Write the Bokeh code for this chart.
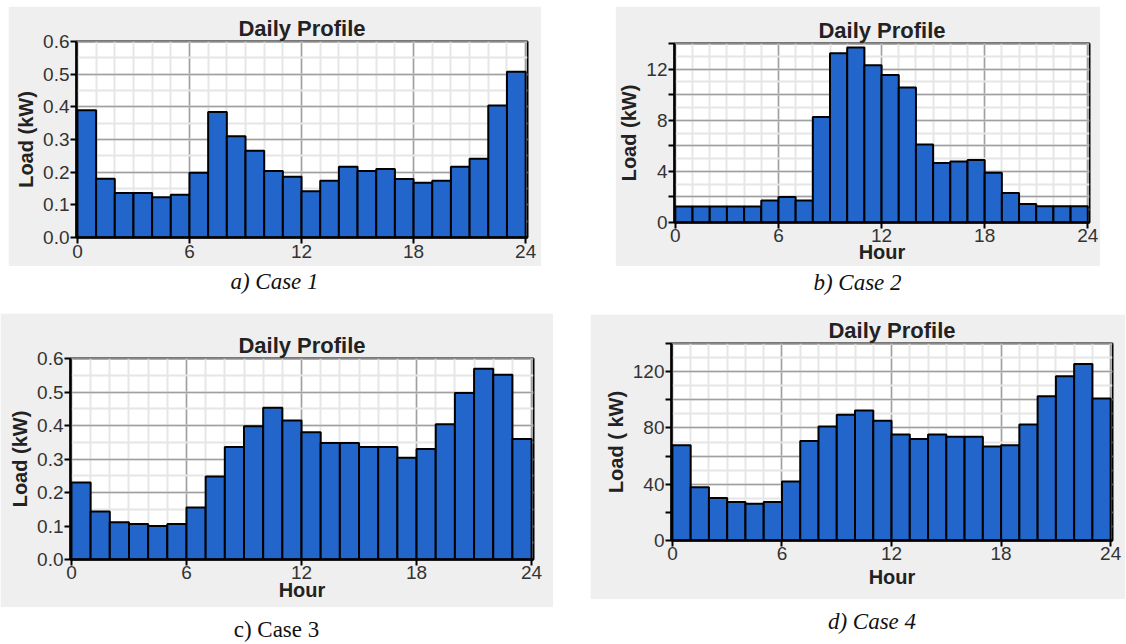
from bokeh.plotting import figure
from bokeh.models import Range1d, SingleIntervalTicker, NumeralTickFormatter, Div, Spacer
from bokeh.layouts import row, column
from bokeh.embed import file_html
from bokeh.resources import INLINE

# hour of day (bar starts at h, ends at h+1)
hours = list(range(24))

case1 = [0.39, 0.18, 0.136, 0.136, 0.123, 0.131, 0.198, 0.384, 0.31, 0.266, 0.204, 0.186,
         0.142, 0.174, 0.217, 0.204, 0.21, 0.179, 0.168, 0.174, 0.217, 0.241, 0.404, 0.508]
case2 = [1.25, 1.25, 1.25, 1.25, 1.25, 1.73, 1.99, 1.72, 8.25, 13.25, 13.7, 12.3,
         11.55, 10.57, 6.1, 4.65, 4.78, 4.9, 3.9, 2.3, 1.45, 1.28, 1.28, 1.28]
case3 = [0.23, 0.143, 0.111, 0.106, 0.1, 0.106, 0.155, 0.248, 0.336, 0.398, 0.453, 0.415,
         0.38, 0.348, 0.348, 0.336, 0.336, 0.304, 0.33, 0.404, 0.497, 0.57, 0.552, 0.36]
case4 = [67.8, 37.8, 30.2, 27.4, 26.2, 27.4, 42.0, 70.8, 81.0, 89.4, 92.4, 85.2,
         75.3, 72.2, 75.3, 73.8, 73.8, 66.8, 67.8, 82.4, 102.5, 116.8, 125.5, 101.0]

captions = ["a) Case 1", "b) Case 2", "c) Case 3", "d) Case 4"]

GREY = "#efefef"
BAR = "#2266cc"
FONT = "Liberation Sans"


def make_panel(vals, ymax, ystep, nminor, ylabel, xlabel, fmt, hide, w, h, bl, br, bt, bb, xstand=3):
    p = figure(width=w, height=h, output_backend="svg", toolbar_location=None,
               x_range=Range1d(-0.05, 24.1), y_range=Range1d(0, ymax * 1.0005),
               min_border_left=bl, min_border_right=br, min_border_top=bt, min_border_bottom=bb,
               title="Daily Profile")
    p.border_fill_color = GREY
    p.background_fill_color = "white"
    p.outline_line_color = "black"
    p.outline_line_width = 2

    p.title.align = "center"
    p.title.text_font = FONT
    p.title.text_font_size = "22px"
    p.title.text_font_style = "bold"
    p.title.text_color = "#222222"
    p.title.standoff = 1

    p.xaxis.ticker = SingleIntervalTicker(interval=6, num_minor_ticks=6)
    p.yaxis.ticker = SingleIntervalTicker(interval=ystep, num_minor_ticks=nminor)
    if fmt:
        p.yaxis.formatter = NumeralTickFormatter(format=fmt)
    if hide:
        p.yaxis.major_label_overrides = {v: "" for v in hide}

    for ax in [p.xaxis[0], p.yaxis[0]]:
        ax.axis_line_color = "black"
        ax.axis_line_width = 2.5
        ax.major_tick_line_color = "black"
        ax.major_tick_line_width = 2
        ax.major_tick_out = 6
        ax.major_tick_in = 0
        ax.minor_tick_line_color = None
        ax.major_label_text_font = FONT
        ax.major_label_text_font_size = "19px"
        ax.major_label_text_color = "#333333"
        ax.major_label_standoff = 1
        ax.axis_label_text_font = FONT
        ax.axis_label_text_font_size = "20px"
        ax.axis_label_text_font_style = "bold"
        ax.axis_label_text_color = "#222222"
        ax.axis_label_standoff = 3
    p.yaxis.axis_label = ylabel
    if xlabel:
        p.xaxis.axis_label = xlabel
        p.xaxis.axis_label_standoff = xstand
        p.xaxis.major_label_standoff = 0

    p.grid.grid_line_color = "#a0a0a0"
    p.grid.grid_line_width = 1.5
    p.grid.minor_grid_line_color = "#e6e6e6"
    p.grid.minor_grid_line_width = 2

    centers = [hr + 0.5 for hr in hours]
    p.vbar(x=centers, top=vals, width=1, bottom=0,
           fill_color=BAR, line_color="black", line_width=2)
    return p


def caption(text, w, h, pad_top, italic=True, pad_left=0):
    style = ("font-family:'Liberation Serif','Times New Roman',serif;font-size:23px;line-height:26px;"
             "color:#111;text-align:center;box-sizing:border-box;width:%dpx;"
             "padding-top:%dpx;padding-left:%dpx;%s"
             % (w, pad_top, pad_left, "font-style:italic;" if italic else ""))
    return Div(text='<div style="%s">%s</div>' % (style, text), width=w, height=h, margin=0)


fa = make_panel(case1, 0.6, 0.1, 2, "Load (kW)", None, "0.0", None,
                533, 260, 68, 14, 35, 29)
fb = make_panel(case2, 14, 2, 2, "Load (kW)", "Hour", None, [2, 6, 10, 14],
                485, 260, 58, 11, 37, 44, xstand=-4)
fc = make_panel(case3, 0.6, 0.1, 2, "Load (kW)", "Hour", "0.0", None,
                553, 294, 70, 20, 45, 48, xstand=-3)
fd = make_panel(case4, 140, 20, 2, "Load ( kW)", "Hour", None, [20, 60, 100, 140],
                535, 285, 81, 13, 29, 59)

ca = caption(captions[0], 533, 47, 3)
cb = caption(captions[1], 485, 47, 4)
cc = caption(captions[2], 553, 36, 10, italic=False)
cd = caption(captions[3], 535, 37, 10, pad_left=29)

top = row(Spacer(width=8), column(fa, ca), Spacer(width=74), column(fb, cb))
bottom = row(column(fc, cc), Spacer(width=37), column(Spacer(height=1), fd, cd))
p = column(Spacer(height=6), top, bottom)

open("out.html", "w").write(file_html(p, INLINE))
